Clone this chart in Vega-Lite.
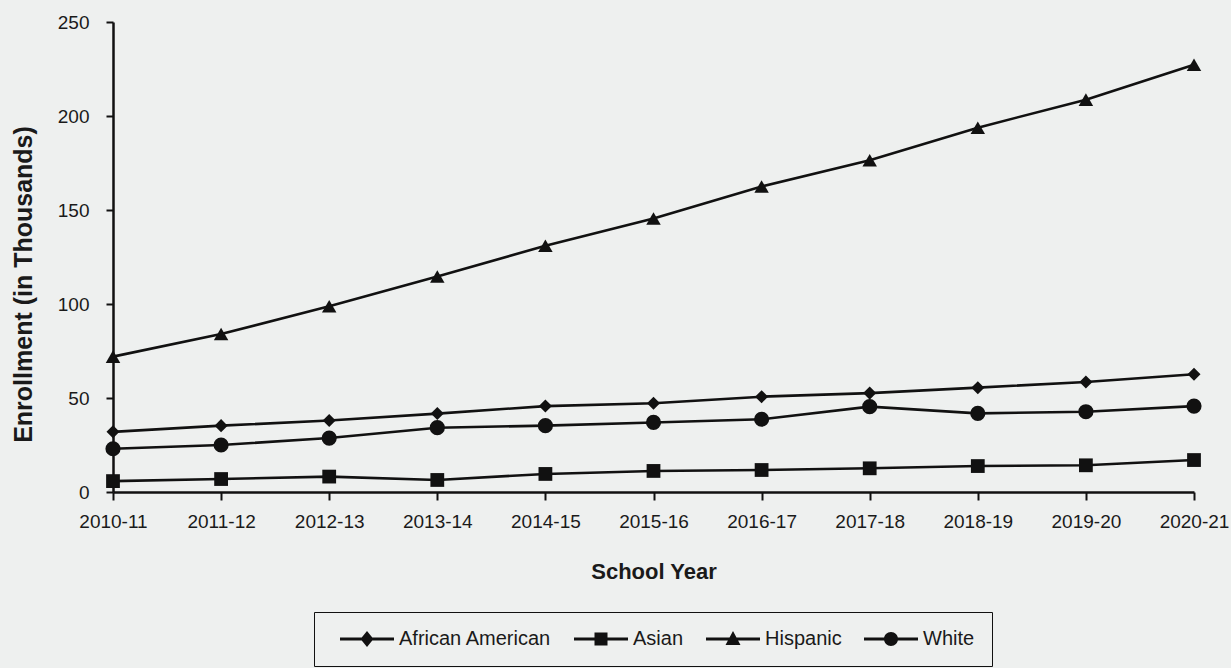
{
  "$schema": "https://vega.github.io/schema/vega-lite/v6.json",
  "width": 1081,
  "height": 470,
  "autosize": {"type": "none"},
  "padding": {"left": 113, "top": 22, "right": 37, "bottom": 176},
  "background": "#eef0ef",
  "config": {
    "view": {"stroke": null},
    "font": "Liberation Sans, Arial, sans-serif",
    "axis": {"grid": false, "domainColor": "#111111", "tickColor": "#111111", "labelColor": "#1a1a1a", "titleColor": "#1a1a1a"}
  },
  "data": {
    "values": [
      {"year": "2010-11", "race": "African American", "value": 32},
      {"year": "2011-12", "race": "African American", "value": 35.3},
      {"year": "2012-13", "race": "African American", "value": 38},
      {"year": "2013-14", "race": "African American", "value": 41.7},
      {"year": "2014-15", "race": "African American", "value": 45.7},
      {"year": "2015-16", "race": "African American", "value": 47.2},
      {"year": "2016-17", "race": "African American", "value": 50.7},
      {"year": "2017-18", "race": "African American", "value": 52.6},
      {"year": "2018-19", "race": "African American", "value": 55.5},
      {"year": "2019-20", "race": "African American", "value": 58.5},
      {"year": "2020-21", "race": "African American", "value": 62.6},
      {"year": "2010-11", "race": "Asian", "value": 5.8},
      {"year": "2011-12", "race": "Asian", "value": 6.9},
      {"year": "2012-13", "race": "Asian", "value": 8.2},
      {"year": "2013-14", "race": "Asian", "value": 6.4},
      {"year": "2014-15", "race": "Asian", "value": 9.6},
      {"year": "2015-16", "race": "Asian", "value": 11.2},
      {"year": "2016-17", "race": "Asian", "value": 11.7},
      {"year": "2017-18", "race": "Asian", "value": 12.6},
      {"year": "2018-19", "race": "Asian", "value": 13.8},
      {"year": "2019-20", "race": "Asian", "value": 14.2},
      {"year": "2020-21", "race": "Asian", "value": 17},
      {"year": "2010-11", "race": "Hispanic", "value": 72},
      {"year": "2011-12", "race": "Hispanic", "value": 84},
      {"year": "2012-13", "race": "Hispanic", "value": 98.8},
      {"year": "2013-14", "race": "Hispanic", "value": 114.6},
      {"year": "2014-15", "race": "Hispanic", "value": 131},
      {"year": "2015-16", "race": "Hispanic", "value": 145.5},
      {"year": "2016-17", "race": "Hispanic", "value": 162.5},
      {"year": "2017-18", "race": "Hispanic", "value": 176.5},
      {"year": "2018-19", "race": "Hispanic", "value": 193.8},
      {"year": "2019-20", "race": "Hispanic", "value": 208.7},
      {"year": "2020-21", "race": "Hispanic", "value": 227.3},
      {"year": "2010-11", "race": "White", "value": 23},
      {"year": "2011-12", "race": "White", "value": 25},
      {"year": "2012-13", "race": "White", "value": 28.7},
      {"year": "2013-14", "race": "White", "value": 34.2},
      {"year": "2014-15", "race": "White", "value": 35.3},
      {"year": "2015-16", "race": "White", "value": 37},
      {"year": "2016-17", "race": "White", "value": 38.7},
      {"year": "2017-18", "race": "White", "value": 45.4},
      {"year": "2018-19", "race": "White", "value": 41.8},
      {"year": "2019-20", "race": "White", "value": 42.7},
      {"year": "2020-21", "race": "White", "value": 45.7}
    ]
  },
  "encoding": {
    "x": {
      "field": "year",
      "type": "ordinal",
      "sort": null,
      "scale": {"type": "point", "padding": 0},
      "axis": {
        "title": "School Year",
        "labelAngle": 0,
        "labelFontSize": 19,
        "labelPadding": 12,
        "tickSize": 8,
        "tickWidth": 2,
        "domainWidth": 2.5,
        "titleFontSize": 22,
        "titleFontWeight": "bold",
        "titlePadding": 30
      }
    },
    "y": {
      "field": "value",
      "type": "quantitative",
      "scale": {"domain": [0, 250], "nice": false},
      "axis": {
        "title": "Enrollment (in Thousands)",
        "values": [0, 50, 100, 150, 200, 250],
        "labelFontSize": 19,
        "labelPadding": 17,
        "tickSize": 7,
        "tickWidth": 2,
        "domainWidth": 2.5,
        "titleFontSize": 25,
        "titleFontWeight": "bold",
        "titlePadding": 21,
        "titleY": 262
      }
    }
  },
  "layer": [
    {
      "mark": {"type": "line", "color": "#111111", "strokeWidth": 2.6},
      "encoding": {"detail": {"field": "race", "type": "nominal"}}
    },
    {
      "mark": {"type": "point", "filled": true, "color": "#111111", "opacity": 1},
      "encoding": {
        "shape": {
          "field": "race",
          "type": "nominal",
          "scale": {"domain": ["African American", "Asian", "Hispanic", "White"], "range": ["diamond", "square", "triangle-up", "circle"]},
          "legend": null
        },
        "size": {
          "field": "race",
          "type": "nominal",
          "scale": {"domain": ["African American", "Asian", "Hispanic", "White"], "range": [170, 230, 250, 230]},
          "legend": null
        }
      }
    },
    {
      "mark": {"type": "point", "filled": true, "color": "#111111", "opacity": 0, "size": 400},
      "encoding": {
        "shape": {
          "field": "race",
          "type": "nominal",
          "scale": {
            "domain": ["African American", "Asian", "Hispanic", "White"],
            "range": [
              "M-2.7,-0.15H2.7V0.15H-2.7Z M0,-0.8L0.65,0L0,0.8L-0.65,0Z",
              "M-2.7,-0.15H2.7V0.15H-2.7Z M-0.65,-0.65H0.65V0.65H-0.65Z",
              "M-2.7,-0.15H2.7V0.15H-2.7Z M0,-0.8L0.75,0.6L-0.75,0.6Z",
              "M-2.7,-0.15H2.7V0.15H-2.7Z M-0.7,0A0.7,0.7 0 1 1 0.7,0A0.7,0.7 0 1 1 -0.7,0Z"
            ]
          },
          "legend": {
            "title": null,
            "orient": "none",
            "legendX": 201,
            "legendY": 590,
            "direction": "horizontal",
            "strokeColor": "#111111",
            "padding": 17,
            "columnPadding": 13,
            "symbolOffset": 26,
            "labelOffset": 22,
            "labelFontSize": 20,
            "labelColor": "#1a1a1a",
            "labelLimit": 300,
            "symbolSize": 400,
            "symbolOpacity": 1,
            "symbolFillColor": "#111111",
            "symbolStrokeWidth": 0,
            "encode": {"legend": {"update": {"strokeWidth": {"value": 2}}}}
          }
        }
      }
    }
  ],
  "resolve": {"scale": {"shape": "independent", "size": "independent"}}
}
